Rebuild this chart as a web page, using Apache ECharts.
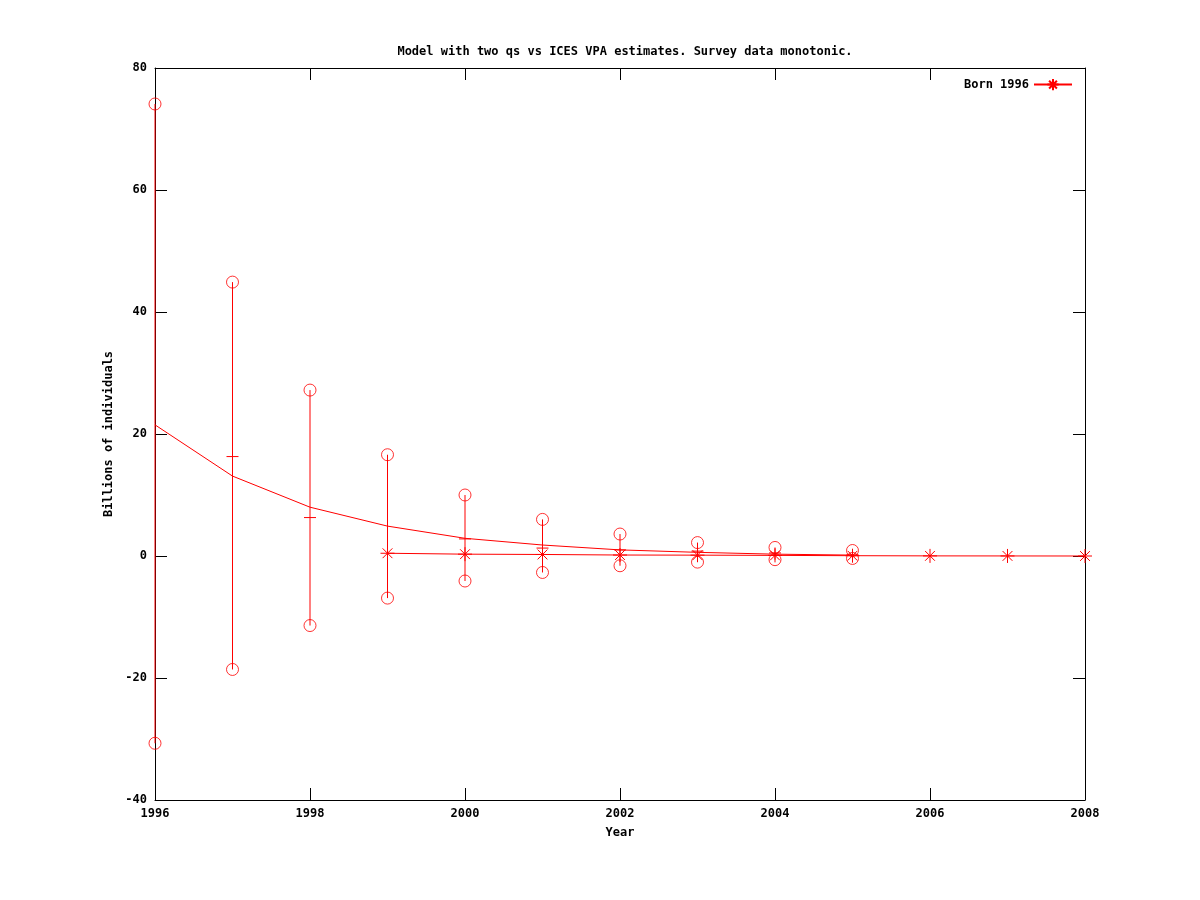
<!DOCTYPE html>
<html>
<head>
<meta charset="utf-8">
<script src="https://cdn.jsdelivr.net/npm/echarts@6/dist/echarts.min.js"></script>
<style>
  html, body { margin: 0; padding: 0; background: #fff; }
  #chart { width: 1200px; height: 900px; }
</style>
</head>
<body>
<div id="chart"></div>
<script>
// survey estimates: low / high (circles) and middle tick, per year
const surveyYears = [1996, 1997, 1998, 1999, 2000, 2001, 2002, 2003, 2004, 2005]
const surveyHigh = [74.1, 44.9, 27.2, 16.6, 10.0, 6.0, 3.6, 2.2, 1.4, 0.9]
const surveyLow = [-30.7, -18.6, -11.4, -6.9, -4.1, -2.7, -1.6, -1.0, -0.6, -0.4]
const surveyMid = [null, 16.3, 6.3, null, 2.8, 1.3, 1.0, 0.8, 0.5, 0.2]

// model curve
const modelYears = [1996, 1997, 1998, 1999, 2000, 2001, 2002, 2003, 2004, 2005]
const modelValues = [21.5, 13.1, 8.0, 4.9, 2.9, 1.8, 1.0, 0.6, 0.3, 0.15]

// ICES VPA, born 1996
const vpaYears = [1999, 2000, 2001, 2002, 2003, 2004, 2005, 2006, 2007, 2008]
const vpaValues = [0.45, 0.3, 0.25, 0.16, 0.14, 0.1, 0.05, 0.02, 0.01, 0]

const RED = '#ff0000'
const FONT = 'DejaVu Sans Mono'
const asterisk = 'path://M0,6L12,6M6,0L6,12M1.8,1.8L10.2,10.2M1.8,10.2L10.2,1.8'

const chart = echarts.init(document.getElementById('chart'), null, { renderer: 'canvas' })

const axisLine = { show: true, onZero: false, lineStyle: { color: '#000', width: 1 } }
const axisTick = { show: true, inside: true, length: 12, lineStyle: { color: '#000', width: 1 } }
const labelStyle = { fontFamily: FONT, fontWeight: 'bold', fontSize: 12, color: '#000' }

const circles = []
surveyYears.forEach((y, i) => {
  circles.push([y, surveyHigh[i]])
  circles.push([y, surveyLow[i]])
})

const options = {
  animation: false,
  backgroundColor: '#fff',
  title: {
    text: 'Model with two qs vs ICES VPA estimates. Survey data monotonic.',
    left: 620,
    top: 41,
    textAlign: 'center',
    textStyle: { ...labelStyle }
  },
  legend: {
    data: ['Born 1996'],
    right: 122,
    top: 73,
    align: 'right',
    itemWidth: 38,
    itemHeight: 14,
    itemGap: 4,
    textStyle: { ...labelStyle }
  },
  grid: { left: 155, right: 115, top: 68, bottom: 100 },
  xAxis: [
    {
      type: 'value',
      min: 1996,
      max: 2008,
      interval: 2,
      position: 'bottom',
      name: 'Year',
      nameLocation: 'middle',
      nameGap: 27,
      nameTextStyle: { ...labelStyle },
      axisLine,
      axisTick,
      axisLabel: { ...labelStyle, margin: 8, formatter: v => String(v) },
      splitLine: { show: false }
    },
    {
      type: 'value',
      min: 1996,
      max: 2008,
      interval: 2,
      position: 'top',
      axisLine,
      axisTick,
      axisLabel: { show: false },
      splitLine: { show: false }
    }
  ],
  yAxis: [
    {
      type: 'value',
      min: -40,
      max: 80,
      interval: 20,
      position: 'left',
      name: 'Billions of individuals',
      nameLocation: 'middle',
      nameGap: 40,
      nameRotate: 90,
      nameTextStyle: { ...labelStyle },
      axisLine,
      axisTick,
      axisLabel: { ...labelStyle, margin: 8 },
      splitLine: { show: false }
    },
    {
      type: 'value',
      min: -40,
      max: 80,
      interval: 20,
      position: 'right',
      axisLine,
      axisTick,
      axisLabel: { show: false },
      splitLine: { show: false }
    }
  ],
  series: [
    {
      name: 'errorbars',
      type: 'custom',
      silent: true,
      clip: false,
      encode: { x: 0, y: [1, 2] },
      data: surveyYears.map((y, i) => [y, surveyLow[i], surveyHigh[i]]),
      renderItem: (params, api) => {
        const x = api.value(0)
        const lo = api.coord([x, api.value(1)])
        const hi = api.coord([x, api.value(2)])
        const children = [{
          type: 'line',
          shape: { x1: lo[0], y1: lo[1], x2: hi[0], y2: hi[1] },
          style: { stroke: RED, lineWidth: 1 }
        }]
        const mid = surveyMid[params.dataIndex]
        if (mid !== null) {
          const m = api.coord([x, mid])
          children.push({
            type: 'line',
            shape: { x1: m[0] - 6, y1: m[1], x2: m[0] + 6, y2: m[1] },
            style: { stroke: RED, lineWidth: 1 }
          })
        }
        return { type: 'group', children }
      }
    },
    {
      name: 'survey',
      type: 'scatter',
      silent: true,
      clip: false,
      symbol: 'circle',
      symbolSize: 12,
      itemStyle: { color: 'rgba(0,0,0,0)', borderColor: RED, borderWidth: 1 },
      data: circles
    },
    {
      name: 'model',
      type: 'line',
      silent: true,
      showSymbol: false,
      lineStyle: { color: RED, width: 1 },
      itemStyle: { color: RED },
      data: modelYears.map((y, i) => [y, modelValues[i]])
    },
    {
      name: 'Born 1996',
      type: 'line',
      silent: true,
      clip: false,
      symbol: asterisk,
      symbolSize: 14,
      showAllSymbol: true,
      lineStyle: { color: RED, width: 1 },
      itemStyle: { color: 'rgba(0,0,0,0)', borderColor: RED, borderWidth: 1 },
      data: vpaYears.map((y, i) => [y, vpaValues[i]])
    }
  ]
}

chart.setOption(options)
</script>
</body>
</html>
